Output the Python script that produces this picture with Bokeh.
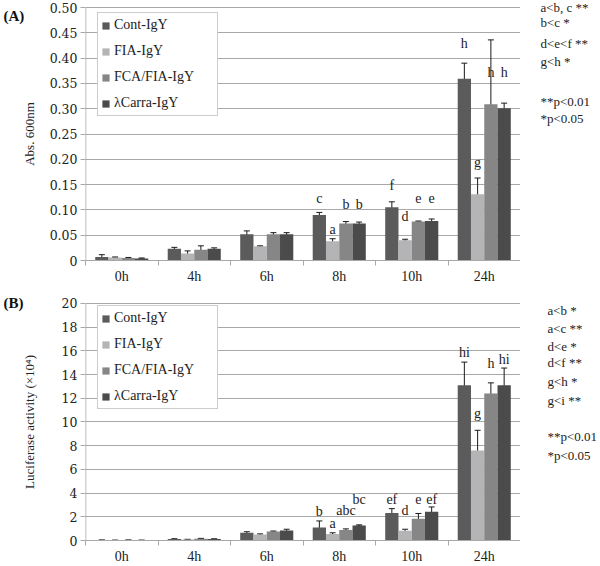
import math
from bokeh.plotting import figure
from bokeh.models import (ColumnDataSource, Range1d, FixedTicker, Whisker, TeeHead,
                          Legend, LegendItem, NumeralTickFormatter)
from bokeh.layouts import column, row
from bokeh.embed import file_html
from bokeh.resources import INLINE
from bokeh.core.properties import value

# ---------------- data ----------------
times = ["0h", "4h", "6h", "8h", "10h", "24h"]
groups = ["Cont-IgY", "FIA-IgY", "FCA/FIA-IgY", "λCarra-IgY"]

# Panel A: Abs. 600nm
cont_a = [0.007, 0.023, 0.052, 0.090, 0.105, 0.359]
fia_a = [0.006, 0.014, 0.028, 0.038, 0.040, 0.131]
fca_a = [0.005, 0.021, 0.052, 0.073, 0.077, 0.309]
lam_a = [0.004, 0.023, 0.052, 0.073, 0.078, 0.301]
cont_a_err = [0.0045, 0.003, 0.0065, 0.005, 0.011, 0.031]
fia_a_err = [0.001, 0.005, 0.001, 0.005, 0.002, 0.032]
fca_a_err = [0.001, 0.008, 0.003, 0.004, 0.001, 0.127]
lam_a_err = [0.001, 0.002, 0.003, 0.003, 0.004, 0.010]
y_ticks_a = [0, 0.05, 0.10, 0.15, 0.20, 0.25, 0.30, 0.35, 0.40, 0.45, 0.50]
# significance letters: (time index, group index, letter, height)
letters_a = [(3, 0, "c", 0.123), (3, 1, "a", 0.062), (3, 2, "b", 0.111), (3, 3, "b", 0.111),
             (4, 0, "f", 0.148), (4, 1, "d", 0.087), (4, 2, "e", 0.123), (4, 3, "e", 0.123),
             (5, 0, "h", 0.428), (5, 1, "g", 0.194), (5, 2, "h", 0.371), (5, 3, "h", 0.371)]
stats_a = ["a<b, c **", "b<c *", "d<e<f **", "g<h *", "**p<0.01", "*p<0.05"]
stats_a_y = [0.500, 0.470, 0.429, 0.393, 0.315, 0.281]

# Panel B: Luciferase activity (x10^4)
cont_b = [0.03, 0.12, 0.66, 1.10, 2.32, 13.1]
fia_b = [0.02, 0.08, 0.50, 0.55, 0.83, 7.6]
fca_b = [0.03, 0.15, 0.75, 0.88, 1.83, 12.4]
lam_b = [0.02, 0.12, 0.85, 1.27, 2.43, 13.1]
cont_b_err = [0.01, 0.03, 0.08, 0.55, 0.37, 1.95]
fia_b_err = [0.01, 0.02, 0.06, 0.10, 0.12, 1.70]
fca_b_err = [0.01, 0.03, 0.05, 0.10, 0.45, 0.90]
lam_b_err = [0.01, 0.02, 0.10, 0.05, 0.40, 1.45]
y_ticks_b = [0, 2, 4, 6, 8, 10, 12, 14, 16, 18, 20]
letters_b = [(3, 0, "b", 2.46), (3, 1, "a", 1.47), (3, 2, "abc", 2.55), (3, 3, "bc", 3.5),
             (4, 0, "ef", 3.43), (4, 1, "d", 2.55), (4, 2, "e", 3.5), (4, 3, "ef", 3.43),
             (5, 0, "hi", 15.9), (5, 1, "g", 10.7), (5, 2, "h", 14.9), (5, 3, "hi", 15.3)]
stats_b = ["a<b *", "a<c **", "d<e *", "d<f **", "g<h *", "g<i **", "**p<0.01", "*p<0.05"]
stats_b_y = [19.4, 17.9, 16.4, 15.0, 13.4, 11.8, 8.8, 7.2]

colors = ["#5b5b5b", "#b4b4b6", "#868686", "#4b4b4b"]
FONT = "Liberation Serif"
NUMFONT = "DejaVu Serif"
TXT = "#222222"
GRID = "#a8a8a8"
BW = 0.183
offsets = [(g - 1.5) * BW for g in range(4)]
LEFT_W = 40
MAIN_W = 480
SIDE_W = 80


def blank_fig(width, height, yrange, bottom):
    f = figure(width=width, height=height, x_range=Range1d(0, width),
               y_range=yrange, title=None,
               output_backend="svg", toolbar_location=None,
               x_axis_location=None, y_axis_location=None,
               min_border_left=0, min_border_right=0, min_border_top=0,
               min_border_bottom=bottom)
    f.outline_line_color = None
    f.xgrid.visible = False
    f.ygrid.visible = False
    f.background_fill_color = "white"
    f.border_fill_color = "white"
    return f


def make_panel(means, errs, letters, ymax, yticks, fmt, ylabel, panel, panel_px,
               stats, stats_y, stats_dx, height, head_px, bottom, legend_loc):
    frame_h = height - bottom
    ytop = ymax / (1 - head_px / frame_h)      # headroom above the top tick
    yrange = Range1d(0, ytop)

    p = figure(width=MAIN_W, height=height, x_range=Range1d(0, 6), y_range=yrange,
               title=None, output_backend="svg", toolbar_location=None,
               min_border_left=85 - LEFT_W, min_border_right=0,
               min_border_top=0, min_border_bottom=bottom)
    p.outline_line_color = None
    p.background_fill_color = "white"
    p.border_fill_color = "white"

    # y-axis line only up to the top tick
    p.segment(x0=[0], y0=[0], x1=[0], y1=[ymax], line_color=GRID, line_width=1.5)

    renderers = []
    for g in range(4):
        xs = [i + 0.5 + offsets[g] for i in range(len(times))]
        src = ColumnDataSource(dict(
            x=xs, top=means[g],
            lower=[m - e for m, e in zip(means[g], errs[g])],
            upper=[m + e for m, e in zip(means[g], errs[g])]))
        r = p.vbar(x="x", top="top", width=BW, source=src,
                   fill_color=colors[g], line_color=None)
        renderers.append(r)
        w = Whisker(source=src, base="x", lower="lower", upper="upper",
                    line_color="#1a1a1a", line_width=1,
                    upper_head=TeeHead(size=6, line_color="#1a1a1a", line_width=1),
                    lower_head=TeeHead(size=6, line_color="#1a1a1a", line_width=1))
        p.add_layout(w)

    lsrc = ColumnDataSource(dict(
        x=[t + 0.5 + offsets[g] for t, g, s, y in letters],
        y=[y for t, g, s, y in letters],
        text=[s for t, g, s, y in letters]))
    p.text(x="x", y="y", text="text", source=lsrc, text_font=value(FONT),
           text_font_size="14px", text_align="center", text_baseline="middle",
           text_color=TXT)

    # axes
    xa = p.xaxis[0]
    xa.ticker = FixedTicker(ticks=[i + 0.5 for i in range(len(times))],
                            minor_ticks=list(range(len(times) + 1)))
    xa.major_label_overrides = {i + 0.5: t for i, t in enumerate(times)}
    xa.major_tick_out = 0
    xa.major_tick_in = 0
    xa.minor_tick_out = 5
    xa.minor_tick_in = 0
    xa.minor_tick_line_color = GRID
    xa.axis_line_color = GRID
    xa.major_label_standoff = 3
    xa.major_label_text_font = FONT
    xa.major_label_text_font_size = "14px"
    xa.major_label_text_color = TXT

    ya = p.yaxis[0]
    ya.ticker = FixedTicker(ticks=yticks, minor_ticks=[])
    ya.formatter = NumeralTickFormatter(format=fmt)
    ya.major_label_overrides = {0: "0"}
    ya.major_tick_out = 5
    ya.major_tick_in = 0
    ya.major_tick_line_color = GRID
    ya.axis_line_color = None
    ya.major_label_standoff = 3
    ya.major_label_text_font = NUMFONT
    ya.major_label_text_font_size = "12.5px"
    ya.major_label_text_color = TXT

    p.xgrid.visible = False
    p.ygrid.grid_line_color = GRID
    p.ygrid.grid_line_width = 1

    legend = Legend(items=[LegendItem(label=groups[g], renderers=[renderers[g]]) for g in range(4)],
                    location=legend_loc, label_text_font=FONT, label_text_font_size="14px",
                    label_text_color=TXT, glyph_width=9, glyph_height=9,
                    label_height=18, spacing=8, padding=3, label_standoff=4,
                    label_width=100, margin=0, border_line_color="#9a9a9a",
                    background_fill_color="white", background_fill_alpha=1)
    p.add_layout(legend)

    # left figure: panel letter and rotated axis title (same vertical range object)
    lf = blank_fig(LEFT_W, height, yrange, bottom)
    lf.text(x=[3], y=[ytop - panel_px * ytop / frame_h], text=[panel], text_font=value(FONT),
            text_font_size="15px", text_font_style="bold", text_baseline="middle",
            text_color="#111111")
    lf.text(x=[29], y=[ymax / 2], text=[ylabel], angle=math.pi / 2, text_font=value(FONT),
            text_font_size="13px", text_align="center", text_baseline="middle",
            text_color=TXT)

    # right figure: significance notes
    rf = blank_fig(SIDE_W, height, yrange, bottom)
    ssrc = ColumnDataSource(dict(x=[stats_dx] * len(stats), y=stats_y, text=stats))
    rf.text(x="x", y="y", text="text", source=ssrc, text_font=value(FONT),
            text_font_size="13px", text_baseline="middle", text_color=TXT)
    return row(lf, p, rf, spacing=0)


pa = make_panel([cont_a, fia_a, fca_a, lam_a], [cont_a_err, fia_a_err, fca_a_err, lam_a_err],
                letters_a, 0.5, y_ticks_a, "0.00", "Abs. 600nm", "(A)", 15,
                stats_a, stats_a_y, 20, 288, 7, 28, (12, 144))
pb = make_panel([cont_b, fia_b, fca_b, lam_b], [cont_b_err, fia_b_err, fca_b_err, lam_b_err],
                letters_b, 20, y_ticks_b, "0", "Luciferase activity (×10⁴)", "(B)", 15,
                stats_b, stats_b_y, 27, 278, 15, 25, (12, 131))

layout = column(pa, pb, spacing=0)
open("out.html", "w").write(file_html(layout, INLINE))
